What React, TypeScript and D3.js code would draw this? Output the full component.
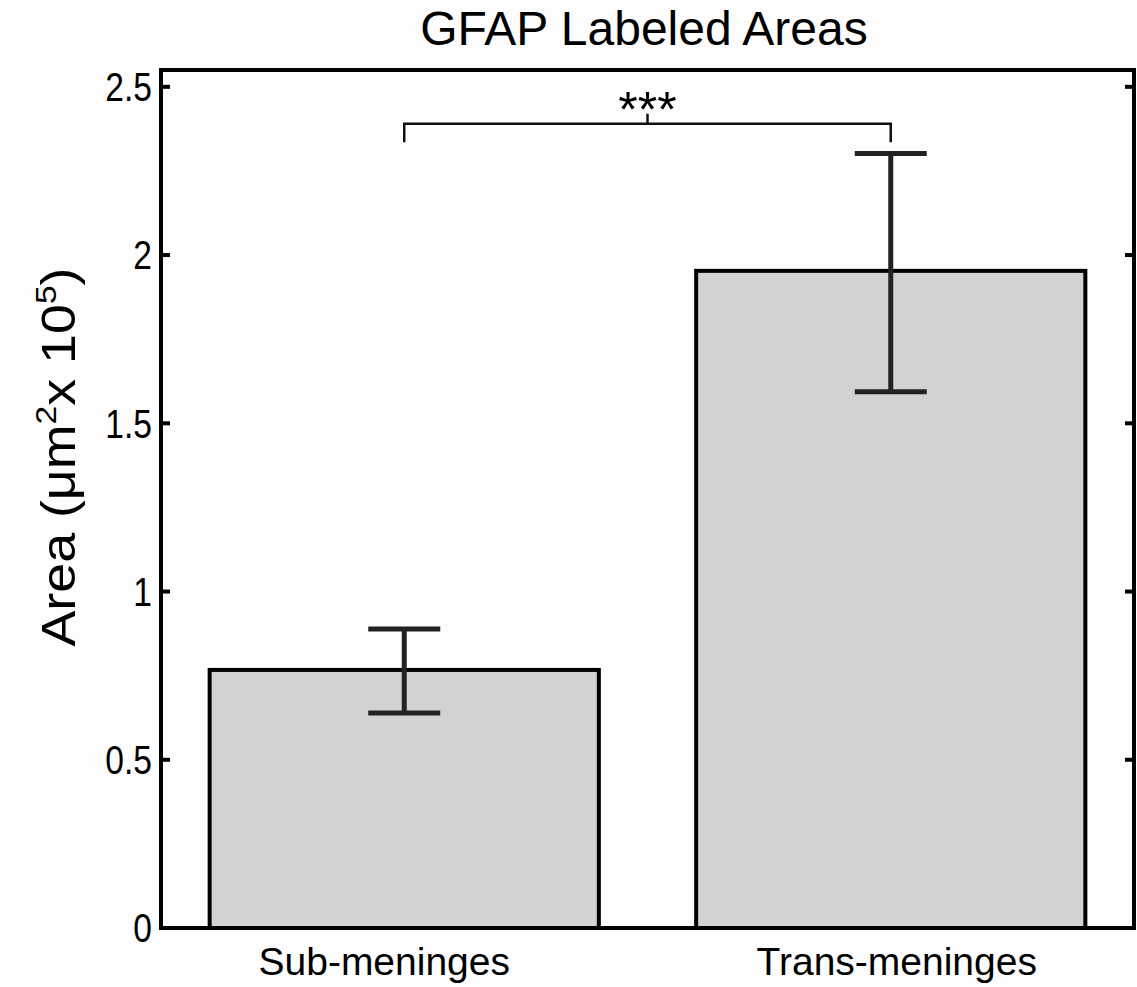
import React from "react";
import * as d3 from "d3";

const categories = ["Sub-meninges", "Trans-meninges"];
const categoryLabelShift = [-20, 6];
const means = [0.767, 1.953];
const errUpper = [0.889, 2.302];
const errLower = [0.639, 1.594];
const yTicks = [0, 0.5, 1, 1.5, 2, 2.5];
const yTickLabels = ["0", "0.5", "1", "1.5", "2", "2.5"];
const sigLabel = "***";
const sigY = 2.39;
const sigLegY = 2.335;
const sigTickY = 2.42;

const W = 1137;
const H = 987;
const left = 161;
const right = 1134;
const top = 70;
const bottom = 928;

export default function App() {
  const x = d3.scaleLinear().domain([0.5, categories.length + 0.5]).range([left, right]);
  const y = d3.scaleLinear().domain([0, 2.55]).range([bottom, top]);
  const barW = x(0.8) - x(0);
  const capHalf = 36;
  const font = "Arial, 'Liberation Sans', Helvetica, sans-serif";
  const x1 = x(1);
  const x2 = x(2);
  const xm = (x1 + x2) / 2;

  return (
    <svg width={W} height={H} style={{ position: "absolute", left: 0, top: 0, background: "#fdfdfd" }} fontFamily={font}>
      <rect x={0} y={0} width={W} height={H} fill="#fdfdfd" />
      <text x={644} y={45} textAnchor="middle" fontSize={48} fill="#000">GFAP Labeled Areas</text>

      {means.map((m, i) => (
        <rect key={"b" + i} x={x(i + 1) - barW / 2} y={y(m)} width={barW} height={y(0) - y(m)}
          fill="#d3d2d3" stroke="#000" strokeWidth={4} />
      ))}

      {means.map((m, i) => {
        const cx = x(i + 1);
        return (
          <g key={"e" + i} stroke="#222" strokeWidth={5}>
            <line x1={cx} x2={cx} y1={y(errUpper[i])} y2={y(errLower[i])} />
            <line x1={cx - capHalf} x2={cx + capHalf} y1={y(errUpper[i])} y2={y(errUpper[i])} />
            <line x1={cx - capHalf} x2={cx + capHalf} y1={y(errLower[i])} y2={y(errLower[i])} />
          </g>
        );
      })}

      <g stroke="#111" strokeWidth={2.5} fill="none">
        <path d={`M${x1},${y(sigLegY)}V${y(sigY)}H${x2}V${y(sigLegY)}`} />
        <line x1={xm} x2={xm} y1={y(sigY)} y2={y(sigTickY)} />
      </g>
      <text x={xm} y={y(sigTickY) + 13} textAnchor="middle" fontSize={50} fill="#000">{sigLabel}</text>

      <rect x={left} y={top} width={right - left} height={bottom - top} fill="none" stroke="#000" strokeWidth={4} />

      {yTicks.map((t, i) => (
        <g key={"t" + i}>
          <line x1={left} x2={left + 9} y1={y(t)} y2={y(t)} stroke="#000" strokeWidth={4} />
          <line x1={right} x2={right - 9} y1={y(t)} y2={y(t)} stroke="#000" strokeWidth={4} />
          <text transform={`translate(${left - 9},${y(t)}) scale(0.84,1)`} dy="0.36em" textAnchor="end" fontSize={40} fill="#000">{yTickLabels[i]}</text>
        </g>
      ))}

      {categories.map((c, i) => (
        <text key={"c" + i} x={x(i + 1) + categoryLabelShift[i]} y={975} textAnchor="middle" fontSize={39} fill="#000">{c}</text>
      ))}

      <text transform={`translate(75,457) rotate(-90) scale(1.12,1)`} textAnchor="middle" fontSize={48} fill="#000">
        Area (μm<tspan fontSize={30} dy={-19}>2</tspan><tspan dy={19}>x 10</tspan><tspan fontSize={30} dy={-19}>5</tspan><tspan dy={19}>)</tspan>
      </text>
    </svg>
  );
}
